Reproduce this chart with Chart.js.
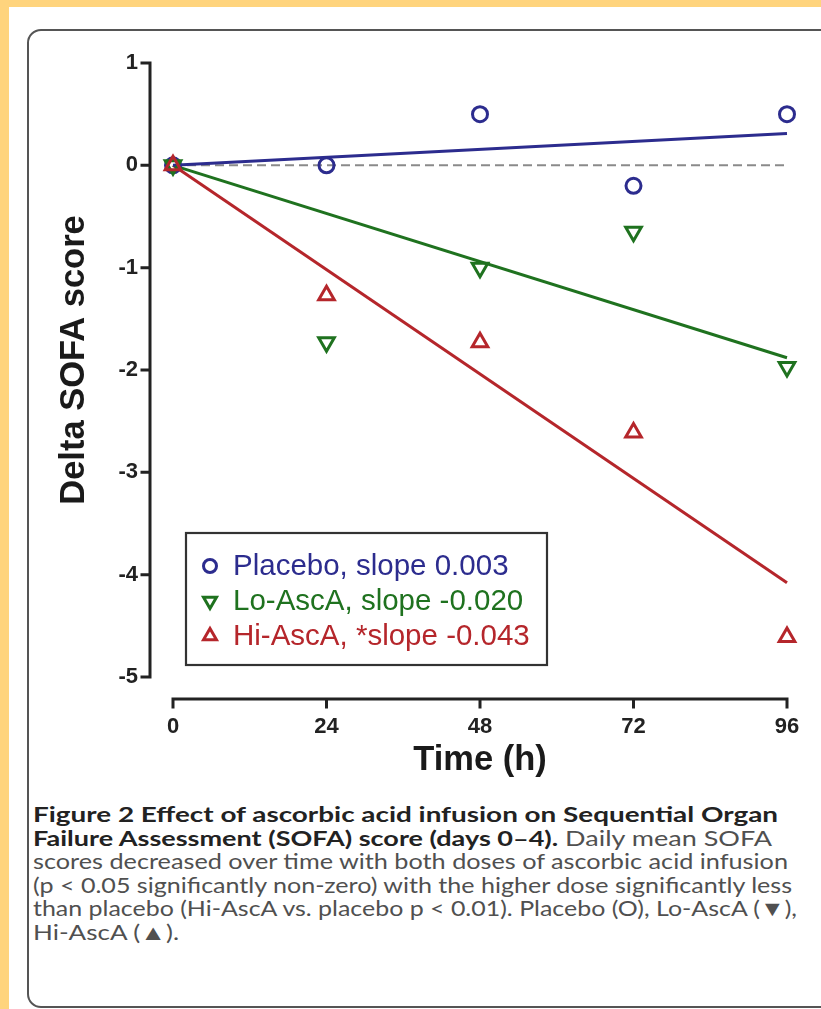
<!DOCTYPE html>
<html>
<head>
<meta charset="utf-8">
<script src="https://cdn.jsdelivr.net/npm/chart.js@4/dist/chart.umd.min.js"></script>
<style>
  html, body { margin:0; padding:0; width:821px; height:1009px; overflow:hidden; background:#FFD47D; }
  #panel { position:absolute; left:9px; top:7px; width:830px; height:1010px; background:#fff; }
  #frame { position:absolute; left:27px; top:29px; width:830px; height:979px; border:2.5px solid #555; border-radius:14px; box-sizing:border-box; }
  #chartWrap { position:absolute; left:0; top:0; width:821px; height:790px; }
  #caption { position:absolute; left:33px; top:803px; font-family:Lato,"Open Sans",sans-serif; font-size:21.5px; line-height:23.6px; color:#505050; }
  #caption .ln { white-space:nowrap; transform-origin:0 50%; height:23.6px; }
  #caption b { color:#222; font-weight:700; }
</style>
</head>
<body>
<div id="panel"></div>
<div id="frame"></div>
<div id="chartWrap"><canvas id="c" width="821" height="790"></canvas></div>
<div id="caption">
  <div class="ln" data-r="778"><b>Figure 2 Effect of ascorbic acid infusion on Sequential Organ</b></div>
  <div class="ln" data-r="772"><b>Failure Assessment (SOFA) score (days 0–4).</b> Daily mean SOFA</div>
  <div class="ln" data-r="788">scores decreased over time with both doses of ascorbic acid infusion</div>
  <div class="ln" data-r="792">(p &lt; 0.05 significantly non-zero) with the higher dose significantly less</div>
  <div class="ln" data-r="797">than placebo (Hi-AscA vs. placebo p &lt; 0.01). Placebo (O), Lo-AscA (▼),</div>
  <div class="ln" data-r="">Hi-AscA (▲).</div>
</div>
<script>
// ---- data ----
const times = [0, 24, 48, 72, 96];
const placebo = [0, 0, 0.5, -0.2, 0.5];
const loAscA = [0, -1.73, -1.0, -0.65, -1.97];
const hiAscA = [0, -1.27, -1.73, -2.61, -4.61];
const fitTimes = [0, 96];
const placeboFit = [0, 0.31];
const loAscAFit = [0, -1.88];
const hiAscAFit = [0, -4.08];
const zeroLine = [0, 0];
const seriesLabels = ['Placebo, slope 0.003', 'Lo-AscA, slope -0.020', 'Hi-AscA, *slope -0.043'];
const xTicks = [0, 24, 48, 72, 96];
const xTickLabels = ['0', '24', '48', '72', '96'];
const yTicks = [1, 0, -1, -2, -3, -4, -5];
const yTickLabels = ['1', '0', '-1', '-2', '-3', '-4', '-5'];
const xTitle = 'Time (h)';
const yTitle = 'Delta SOFA score';

const BLUE = '#2c2c8e', GREEN = '#1f721f', RED = '#b5262b';
const FONT = '"Liberation Sans", Arial, Helvetica, sans-serif';

const pts = (xs, ys) => xs.map((x, i) => ({x, y: ys[i]}));

const markerStyle = [
  {pointStyle:'circle', radius:7.5, rotation:0, color:BLUE},
  {pointStyle:'triangle', radius:9, rotation:180, color:GREEN},
  {pointStyle:'triangle', radius:9, rotation:0, color:RED}
];

const datasets = [
  {data: pts(fitTimes, zeroLine), showLine:true, borderColor:'#8a8a8a', borderWidth:2, borderDash:[9,5], pointRadius:0, order:5, clip:false},
  {data: pts(fitTimes, placeboFit), showLine:true, borderColor:BLUE, borderWidth:3, pointRadius:0, order:4, clip:false},
  {data: pts(fitTimes, loAscAFit), showLine:true, borderColor:GREEN, borderWidth:3, pointRadius:0, order:4, clip:false},
  {data: pts(fitTimes, hiAscAFit), showLine:true, borderColor:RED, borderWidth:3, pointRadius:0, order:4, clip:false},
];
[placebo, loAscA, hiAscA].forEach((ys, i) => {
  const m = markerStyle[i];
  datasets.push({label: seriesLabels[i], data: pts(times, ys), showLine:false,
    pointStyle:m.pointStyle, pointRadius:m.radius, pointRotation:m.rotation,
    pointBorderColor:m.color, pointBackgroundColor:'rgba(255,255,255,0)', pointBorderWidth:3,
    order:3 - i, clip:false});
});

const axesPlugin = {
  id: 'prismAxes',
  afterDraw(chart) {
    const {ctx} = chart;
    const xs = chart.scales.x, ys = chart.scales.y;
    ctx.save();
    ctx.strokeStyle = '#222';
    ctx.lineWidth = 3;
    ctx.lineCap = 'square';
    // y axis (offset left)
    const yAxisX = 150;
    const yTop = ys.getPixelForValue(yTicks[0]);
    const yBot = ys.getPixelForValue(yTicks[yTicks.length - 1]);
    ctx.beginPath();
    ctx.moveTo(yAxisX, yTop); ctx.lineTo(yAxisX, yBot);
    yTicks.forEach(v => { const p = ys.getPixelForValue(v); ctx.moveTo(yAxisX - 8, p); ctx.lineTo(yAxisX, p); });
    ctx.stroke();
    // x axis (offset below)
    const xAxisY = 699;
    const xL = xs.getPixelForValue(xTicks[0]);
    const xR = xs.getPixelForValue(xTicks[xTicks.length - 1]);
    ctx.beginPath();
    ctx.moveTo(xL, xAxisY); ctx.lineTo(xR, xAxisY);
    xTicks.forEach(v => { const p = xs.getPixelForValue(v); ctx.moveTo(p, xAxisY); ctx.lineTo(p, xAxisY + 8); });
    ctx.stroke();
    // y title
    ctx.save();
    ctx.translate(74, 360);
    ctx.rotate(-Math.PI / 2);
    ctx.font = 'bold 34.5px ' + FONT;
    ctx.fillStyle = '#1a1a1a';
    ctx.textAlign = 'center';
    ctx.textBaseline = 'middle';
    ctx.fillText(yTitle, 0, 0);
    ctx.restore();
    // legend box
    const bx = 186, by = 533, bw = 361, bh = 132;
    ctx.lineWidth = 2.2;
    ctx.strokeStyle = '#333';
    ctx.strokeRect(bx, by, bw, bh);
    ctx.font = '29.5px ' + FONT;
    ctx.textBaseline = 'middle';
    ctx.textAlign = 'left';
    seriesLabels.forEach((lab, i) => {
      const m = markerStyle[i];
      const cy = by + 33 + i * 35;
      ctx.strokeStyle = m.color;
      ctx.fillStyle = 'rgba(255,255,255,0)';
      ctx.lineWidth = 3;
      Chart.helpers.drawPoint(ctx, {pointStyle:m.pointStyle, radius: i===0 ? 6.5 : 7.5, rotation:m.rotation, borderWidth:3}, 210, cy);
      ctx.fillStyle = m.color;
      ctx.fillText(lab, 233, cy + 1);
    });
    ctx.restore();
  }
};

new Chart(document.getElementById('c'), {
  type: 'scatter',
  data: {datasets},
  plugins: [axesPlugin],
  options: {
    responsive: false,
    animation: false,
    devicePixelRatio: 1,
    layout: {padding: {left:0, top:63, right:34, bottom:0}},
    plugins: {legend:{display:false}, tooltip:{enabled:false}},
    scales: {
      x: {
        type:'linear', min:0, max:96,
        afterBuildTicks: s => { s.ticks = xTicks.map(v => ({value:v})); },
        afterFit: s => { s.height = 790 - 677; },
        grid:{display:false, drawTicks:true, tickLength:34}, border:{display:false},
        ticks:{padding:3, color:'#222', font:{family:FONT, size:22, weight:'bold'},
          callback: (v) => xTickLabels[xTicks.indexOf(v)]},
        title:{display:true, text:xTitle, color:'#1a1a1a', font:{family:FONT, size:34.5, weight:'bold'}, padding:{top:0, bottom:9}}
      },
      y: {
        type:'linear', min:-5, max:1,
        afterBuildTicks: s => { s.ticks = yTicks.map(v => ({value:v})); },
        afterFit: s => { s.width = 173; },
        grid:{display:false, drawTicks:false}, border:{display:false},
        ticks:{padding:35, color:'#222', font:{family:FONT, size:22, weight:'bold'},
          callback: (v) => yTickLabels[yTicks.indexOf(v)]},
        title:{display:false}
      }
    }
  }
});

// fit caption lines to the reference widths
function fitCaption() {
  const lines = Array.from(document.querySelectorAll('#caption .ln'));
  lines.forEach(el => {
    if (!el.firstElementChild || el.firstElementChild.className !== 'in') {
      const inner = document.createElement('span');
      inner.className = 'in';
      inner.innerHTML = el.innerHTML; el.innerHTML = ''; el.appendChild(inner);
    }
    el.style.transform = 'none';
    const w = el.firstElementChild.getBoundingClientRect().width;
    el._f = el.dataset.r ? (parseFloat(el.dataset.r) - 33) / w : null;
  });
  const fs = lines.map(l => l._f).filter(f => f);
  const avg = fs.reduce((a, b) => a + b, 0) / fs.length;
  lines.forEach(l => { l.style.transform = 'scaleX(' + (l._f || avg) + ')'; });
}
fitCaption();
if (document.fonts && document.fonts.ready) document.fonts.ready.then(fitCaption);
</script>
</body>
</html>
